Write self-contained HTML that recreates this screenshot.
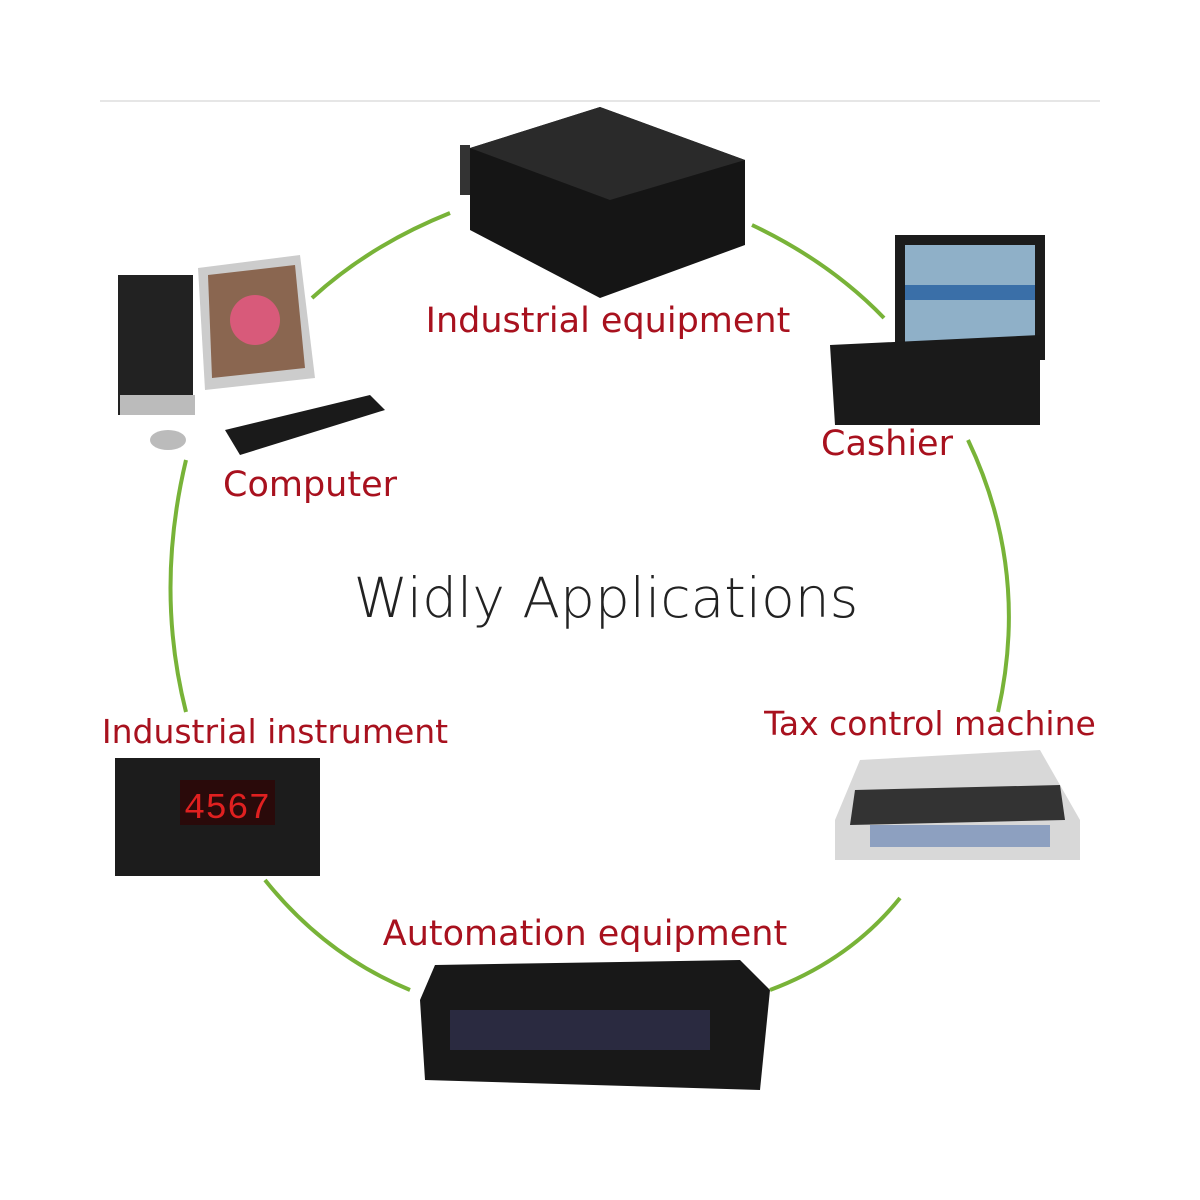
<!DOCTYPE html>
<html><head><meta charset="utf-8"><style>
body{margin:0;background:#fff;}
svg{display:block}
.l{font-family:"DejaVu Sans","Liberation Sans",sans-serif;fill:#a8111e;font-size:35px}
</style></head><body>
<svg width="1200" height="1200" viewBox="0 0 1200 1200">
<rect width="1200" height="1200" fill="#fff"/>
<line x1="100" y1="101" x2="1100" y2="101" stroke="#e6e6e6" stroke-width="2"/>
<g fill="none" stroke="#78b338" stroke-width="4">
<path d="M312 298 Q370 245 450 213"/>
<path d="M752 225 Q830 262 884 318"/>
<path d="M968 440 Q1030 570 998 712"/>
<path d="M186 460 Q155 590 186 712"/>
<path d="M265 880 Q325 955 410 990"/>
<path d="M770 990 Q850 960 900 898"/>
</g>
<text x="606" y="617" text-anchor="middle" font-family="DejaVu Sans,Liberation Sans,sans-serif" font-size="55" font-weight="300" fill="#222">Widly Applications</text>
<polygon points="470,148 600,107 745,160 745,245 600,298 470,230" fill="#151515"/>
<polygon points="470,148 600,107 745,160 610,200" fill="#2a2a2a"/>
<rect x="460" y="145" width="10" height="50" fill="#333"/>
<text x="608" y="332" text-anchor="middle" class="l">Industrial equipment</text>
<rect x="118" y="275" width="75" height="140" fill="#222"/>
<rect x="120" y="395" width="75" height="20" fill="#bbb"/>
<polygon points="198,268 300,255 315,378 205,390" fill="#ccc"/>
<polygon points="208,275 295,265 305,368 212,378" fill="#8a6650"/>
<circle cx="255" cy="320" r="25" fill="#d85a7a"/>
<polygon points="225,430 370,395 385,410 240,455" fill="#1a1a1a"/>
<ellipse cx="168" cy="440" rx="18" ry="10" fill="#bbb"/>
<text x="310" y="496" text-anchor="middle" class="l">Computer</text>
<rect x="895" y="235" width="150" height="125" fill="#1c1c1c"/>
<rect x="905" y="245" width="130" height="100" fill="#8fb0c8"/>
<rect x="905" y="285" width="130" height="15" fill="#3a6fa8"/>
<polygon points="830,345 1040,335 1040,425 835,425" fill="#1a1a1a"/>
<text x="887" y="455" text-anchor="middle" class="l">Cashier</text>
<text x="275" y="743" text-anchor="middle" class="l" style="font-size:33px">Industrial instrument</text>
<rect x="115" y="758" width="205" height="118" fill="#1c1c1c"/>
<rect x="180" y="780" width="95" height="45" fill="#2a0a0a"/>
<text x="227" y="818" text-anchor="middle" font-family="Liberation Mono,monospace" font-size="36" fill="#e02020">4567</text>
<text x="930" y="735" text-anchor="middle" class="l" style="font-size:33px">Tax control machine</text>
<polygon points="860,760 1040,750 1080,820 1080,860 835,860 835,820" fill="#d8d8d8"/>
<polygon points="855,790 1060,785 1065,820 850,825" fill="#333"/>
<rect x="870" y="825" width="180" height="22" fill="#8da0c0"/>
<text x="585" y="945" text-anchor="middle" class="l">Automation equipment</text>
<polygon points="435,965 740,960 770,990 760,1090 425,1080 420,1000" fill="#181818"/>
<rect x="450" y="1010" width="260" height="40" fill="#2a2a40"/>
</svg>
</body></html>
